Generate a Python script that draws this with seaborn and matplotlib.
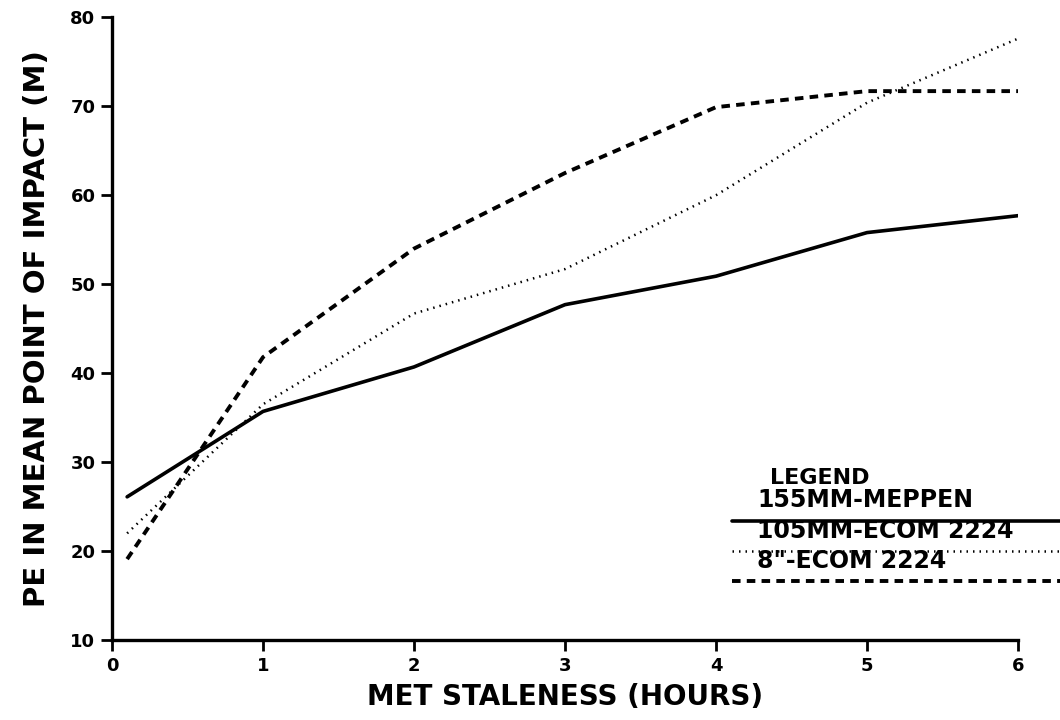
import matplotlib
matplotlib.use("Agg")
import matplotlib.pyplot as plt
from matplotlib.lines import Line2D
import seaborn as sns
import pandas as pd

hours = [0.1, 1, 2, 3, 4, 5, 6]
meppen_155 = [26.1, 35.7, 40.7, 47.7, 50.9, 55.8, 57.7]
ecom_105 = [22.0, 36.5, 46.7, 51.7, 60.0, 70.4, 77.6]
ecom_8in = [19.1, 41.8, 54.0, 62.5, 69.9, 71.7, 71.7]
series_names = ["155MM-MEPPEN", "105MM-ECOM 2224", "8\"-ECOM 2224"]
x_ticks = [0, 1, 2, 3, 4, 5, 6]
y_ticks = [10, 20, 30, 40, 50, 60, 70, 80]

sns.set_theme(style="ticks")
plt.rcParams['font.family'] = ['DejaVu Sans']
plt.rcParams['text.color'] = 'black'
plt.rcParams['axes.labelcolor'] = 'black'
plt.rcParams['xtick.color'] = 'black'
plt.rcParams['ytick.color'] = 'black'

fig = plt.figure(figsize=(10.6, 7.2), dpi=100)
ax = fig.add_axes([0.1057, 0.111, 0.8547, 0.865])

styles = [
    dict(linestyle="-", linewidth=2.6),
    dict(linestyle=(0, (0.6, 2.0)), linewidth=1.8),
    dict(linestyle=(0, (2.2, 1.6)), linewidth=2.8),
]
for name, vals, st in zip(series_names, [meppen_155, ecom_105, ecom_8in], styles):
    df = pd.DataFrame({"h": hours, "v": vals})
    sns.lineplot(data=df, x="h", y="v", ax=ax, color="black", **st)

ax.set_xlim(0, 6)
ax.set_ylim(10, 80)
ax.set_xticks(x_ticks)
ax.set_yticks(y_ticks)
ax.set_xticklabels([str(t) for t in x_ticks], fontsize=13, fontweight="bold")
ax.set_yticklabels([str(t) for t in y_ticks], fontsize=13, fontweight="bold")
for s in ["top", "right"]:
    ax.spines[s].set_visible(False)
for s in ["left", "bottom"]:
    ax.spines[s].set_linewidth(2.4)
    ax.spines[s].set_color("black")
ax.tick_params(axis="both", direction="out", length=8, width=2, color="black", pad=4)
ax.set_xlabel("MET STALENESS (HOURS)", fontsize=20, fontweight="bold", labelpad=6)
ax.set_ylabel("PE IN MEAN POINT OF IMPACT (M)", fontsize=21, fontweight="bold", labelpad=14)

# Legend drawn as in the original: text above each sample line
fig.text(820 / 1060, 1 - 478 / 720, "LEGEND", fontsize=16, fontweight="bold",
         ha="center", va="center")
label_y = [500, 531, 561]
line_y = [521, 551, 581]
for name, st, ly, lny in zip(series_names, styles, label_y, line_y):
    fig.text(757 / 1060, 1 - ly / 720, name, fontsize=17, fontweight="bold",
             ha="left", va="center")
    fig.add_artist(Line2D([732 / 1060, 1.0], [1 - lny / 720, 1 - lny / 720],
                          color="black", transform=fig.transFigure, **st))

fig.savefig("out.png", dpi=100)
